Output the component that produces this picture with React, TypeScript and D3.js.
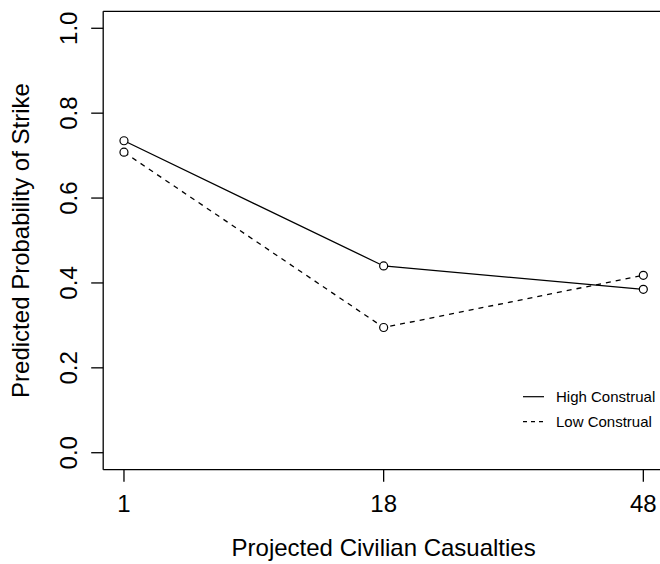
import React, { useEffect, useRef } from 'react';
import * as d3 from 'd3';

const casualties = ['1', '18', '48'];
const highConstrual = [0.735, 0.44, 0.385];
const lowConstrual = [0.708, 0.295, 0.418];
const yTicks = [0, 0.2, 0.4, 0.6, 0.8, 1.0];
const seriesNames = ['High Construal', 'Low Construal'];

const W = 660;
const H = 564;
const FONT = 'Liberation Sans, Arial, Helvetica, sans-serif';

function App() {
    const ref = useRef<SVGSVGElement>(null);

    useEffect(() => {
        document.body.style.margin = '0';
        document.body.style.overflow = 'hidden';
        const svg = d3.select(ref.current);
        svg.selectAll('*').remove();

        const left = 103.2;
        const right = 664.1;
        const top = 11.3;
        const bottom = 469.7;

        // R style: 4% padding on both axes
        const x = d3.scaleLinear().domain([0.92, 3.08]).range([left, right]);
        const y = d3.scaleLinear().domain([-0.04, 1.04]).range([bottom, top]);

        // box, its right side lies past the window edge
        svg.append('line')
            .attr('x1', left).attr('x2', W)
            .attr('y1', top).attr('y2', top)
            .attr('stroke', '#000').attr('stroke-width', 1.3);
        svg.append('line')
            .attr('x1', left).attr('x2', W)
            .attr('y1', bottom).attr('y2', bottom)
            .attr('stroke', '#000').attr('stroke-width', 1.3);
        svg.append('line')
            .attr('x1', left).attr('x2', left)
            .attr('y1', top).attr('y2', bottom)
            .attr('stroke', '#000').attr('stroke-width', 1.3);

        // y axis
        const yAxis = svg.append('g');
        yTicks.forEach((t) => {
            yAxis.append('line')
                .attr('x1', left - 12).attr('x2', left)
                .attr('y1', y(t)).attr('y2', y(t))
                .attr('stroke', '#000').attr('stroke-width', 1.3);
            yAxis.append('text')
                .attr('transform', `translate(77,${y(t)}) rotate(-90)`)
                .attr('text-anchor', 'middle')
                .style('font-family', FONT)
                .style('font-size', '24px')
                .text(t.toFixed(1));
        });

        // x axis
        const xAxis = svg.append('g');
        casualties.forEach((c, i) => {
            xAxis.append('line')
                .attr('x1', x(i + 1)).attr('x2', x(i + 1))
                .attr('y1', bottom).attr('y2', bottom + 12)
                .attr('stroke', '#000').attr('stroke-width', 1.3);
            xAxis.append('text')
                .attr('x', x(i + 1))
                .attr('y', 512)
                .attr('text-anchor', 'middle')
                .style('font-family', FONT)
                .style('font-size', '24px')
                .text(c);
        });

        // axis titles
        svg.append('text')
            .attr('x', (left + right) / 2)
            .attr('y', 556)
            .attr('text-anchor', 'middle')
            .style('font-family', FONT)
            .style('font-size', '24px')
            .text('Projected Civilian Casualties');
        svg.append('text')
            .attr('transform', `translate(29,${(top + bottom) / 2}) rotate(-90)`)
            .attr('text-anchor', 'middle')
            .style('font-family', FONT)
            .style('font-size', '24px')
            .text('Predicted Probability of Strike');

        const line = d3.line<number>()
            .x((d, i) => x(i + 1))
            .y((d) => y(d));

        const series = [
            { values: highConstrual, dash: null },
            { values: lowConstrual, dash: '5,5' }
        ];

        series.forEach((s) => {
            svg.append('path')
                .datum(s.values)
                .attr('d', line)
                .attr('fill', 'none')
                .attr('stroke', '#000')
                .attr('stroke-width', 1.3)
                .attr('stroke-dasharray', s.dash);
            svg.append('g')
                .selectAll('circle')
                .data(s.values)
                .join('circle')
                .attr('cx', (d, i) => x(i + 1))
                .attr('cy', (d) => y(d))
                .attr('r', 4)
                .attr('fill', '#fff')
                .attr('stroke', '#000')
                .attr('stroke-width', 1.2);
        });

        // legend
        const legend = svg.append('g');
        const legendY = [396.7, 421.7];
        seriesNames.forEach((name, i) => {
            legend.append('line')
                .attr('x1', 523).attr('x2', 544)
                .attr('y1', legendY[i]).attr('y2', legendY[i])
                .attr('stroke', '#000')
                .attr('stroke-width', 1.2)
                .attr('stroke-dasharray', i === 1 ? '4,4' : null);
            legend.append('text')
                .attr('x', 556)
                .attr('y', legendY[i] + 5.5)
                .style('font-family', FONT)
                .style('font-size', '15px')
                .text(name);
        });
    }, []);

    return (
        <svg ref={ref} width={W} height={H} style={{ display: 'block', background: '#fff' }} />
    );
}

export default App;
